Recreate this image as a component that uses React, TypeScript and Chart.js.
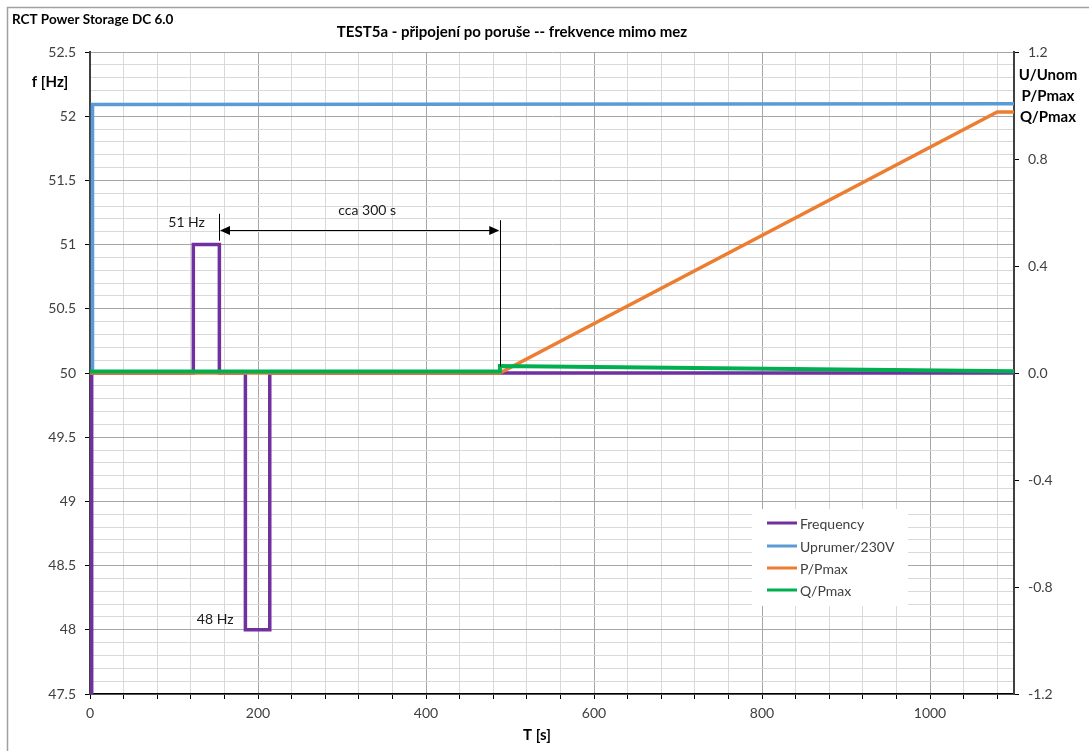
import React, { useEffect, useRef } from "react";
import { Chart, registerables } from "chart.js";
Chart.register(...registerables);

// ---- data ----
const seriesLabels = ["Frequency", "Uprumer/230V", "P/Pmax", "Q/Pmax"];
const seriesColors = ["#7030A0", "#5B9BD5", "#ED7D31", "#00B050"];

const timeFreq = [2, 2, 123, 123, 154, 154, 185, 185, 214, 214, 1100];
const freqHz = [47.5, 50, 50, 51, 51, 50, 50, 48, 48, 50, 50];

const timeU = [0, 3, 3, 1100];
const uRel = [0, 0, 1.004, 1.007];

const timeP = [0, 488, 1080, 1100];
const pRel = [0, 0, 0.976, 0.976];

const timeQ = [0, 488, 488, 1100];
const qRel = [0.006, 0.006, 0.026, 0.007];

const xTickLabels = ["0", "200", "400", "600", "800", "1000"];

// annotations (data coordinates)
const markerTimes = [153.6, 488.4];
const markerTops = [51.24, 51.19];
const markerBottoms = [51.03, 50.05];
const arrowLevel = 51.11;
const noteTexts = ["cca 300 s", "51 Hz", "48 Hz"];
const noteTimes = [330, 115, 149];
const noteLevels = [51.265, 51.17, 48.08];

const FONT = "Lato, 'Open Sans', sans-serif";

const toPts = (xs: number[], ys: number[]) => xs.map((x, i) => ({ x, y: ys[i] }));

const isMajorHalf = (v: number) => Math.abs(v * 2 - Math.round(v * 2)) < 1e-6;

const decorPlugin = {
  id: "decor",
  afterDatasetsDraw(chart: any) {
    const ctx = chart.ctx;
    const xs = chart.scales.x;
    const ys = chart.scales.y;
    ctx.save();
    // markers
    ctx.strokeStyle = "#000";
    ctx.lineWidth = 1;
    markerTimes.forEach((t, i) => {
      const px = Math.round(xs.getPixelForValue(t)) + 0.5;
      ctx.beginPath();
      ctx.moveTo(px, ys.getPixelForValue(markerTops[i]));
      ctx.lineTo(px, ys.getPixelForValue(markerBottoms[i]));
      ctx.stroke();
    });
    // double arrow
    const ax1 = xs.getPixelForValue(markerTimes[0]) + 1;
    const ax2 = xs.getPixelForValue(markerTimes[1]) - 1;
    const ay = Math.round(ys.getPixelForValue(arrowLevel)) + 0.5;
    ctx.beginPath();
    ctx.moveTo(ax1 + 6, ay);
    ctx.lineTo(ax2 - 6, ay);
    ctx.stroke();
    ctx.fillStyle = "#000";
    ctx.beginPath();
    ctx.moveTo(ax1, ay);
    ctx.lineTo(ax1 + 10, ay - 4.5);
    ctx.lineTo(ax1 + 10, ay + 4.5);
    ctx.closePath();
    ctx.fill();
    ctx.beginPath();
    ctx.moveTo(ax2, ay);
    ctx.lineTo(ax2 - 10, ay - 4.5);
    ctx.lineTo(ax2 - 10, ay + 4.5);
    ctx.closePath();
    ctx.fill();
    // notes
    ctx.font = `14px ${FONT}`;
    ctx.fillStyle = "#1a1a1a";
    ctx.textAlign = "center";
    ctx.textBaseline = "middle";
    noteTexts.forEach((t, i) => {
      ctx.fillText(t, xs.getPixelForValue(noteTimes[i]), ys.getPixelForValue(noteLevels[i]));
    });
    // legend
    const lx = 752, ly = 509, lw = 156, lh = 97;
    ctx.fillStyle = "#fff";
    ctx.fillRect(lx, ly, lw, lh);
    const rowsY = [523, 546, 568, 590];
    ctx.textAlign = "left";
    ctx.font = `14px ${FONT}`;
    chart.data.datasets.forEach((ds: any, i: number) => {
      ctx.strokeStyle = ds.borderColor;
      ctx.lineWidth = 3;
      ctx.beginPath();
      ctx.moveTo(767, rowsY[i]);
      ctx.lineTo(797, rowsY[i]);
      ctx.stroke();
      ctx.fillStyle = "#404040";
      ctx.fillText(ds.label, 800, rowsY[i] + 1);
    });
    ctx.restore();
  },
  afterDraw(chart: any) {
    const ctx = chart.ctx;
    ctx.save();
    ctx.strokeStyle = "#a0a0a0";
    ctx.lineWidth = 1.5;
    ctx.strokeRect(7.5, 7.5, 1200, 900);
    ctx.fillStyle = "#000";
    ctx.textBaseline = "alphabetic";
    ctx.textAlign = "left";
    ctx.font = `bold 13.5px ${FONT}`;
    ctx.fillText("RCT Power Storage DC 6.0", 12, 24);
    ctx.textAlign = "center";
    ctx.font = `bold 15px ${FONT}`;
    ctx.fillText("TEST5a - připojení po poruše -- frekvence mimo mez", 512, 37);
    ctx.textBaseline = "middle";
    ctx.fillText("f [Hz]", 50, 82);
    ctx.fillText("U/Unom", 1048, 75);
    ctx.fillText("P/Pmax", 1048, 96);
    ctx.fillText("Q/Pmax", 1048, 117);
    ctx.fillText("T [s]", 537, 735);
    ctx.restore();
  },
};

export default function App() {
  const ref = useRef<HTMLCanvasElement>(null);
  useEffect(() => {
    if (!ref.current) return;
    const tickFont = { family: FONT, size: 14 };
    const chart = new Chart(ref.current, {
      type: "line",
      data: {
        datasets: [
          { label: seriesLabels[0], data: toPts(timeFreq, freqHz), borderColor: seriesColors[0], yAxisID: "y", order: 2 },
          { label: seriesLabels[1], data: toPts(timeU, uRel), borderColor: seriesColors[1], yAxisID: "y2", order: 3 },
          { label: seriesLabels[2], data: toPts(timeP, pRel), borderColor: seriesColors[2], yAxisID: "y2", order: 1 },
          { label: seriesLabels[3], data: toPts(timeQ, qRel), borderColor: seriesColors[3], yAxisID: "y2", order: 0, borderWidth: 4 },
        ] as any,
      },
      options: {
        animation: false,
        responsive: false,
        parsing: false as any,
        elements: {
          point: { radius: 0 },
          line: { borderWidth: 3.5, tension: 0, borderJoinStyle: "miter" as any, borderCapStyle: "butt" },
        },
        layout: { padding: { top: 52, left: 0, right: 0, bottom: 0 } },
        plugins: { legend: { display: false }, tooltip: { enabled: false }, title: { display: false } },
        scales: {
          x: {
            type: "linear",
            min: 0,
            max: 1100,
            afterFit: (s: any) => { s.height = 57; },
            grid: {
              color: (c: any) => (c.tick && Math.round(c.tick.value) % 200 === 0 ? "#a6a6a6" : "#d9d9d9"),
              tickColor: "#000",
              tickLength: 5,
            },
            border: { color: "#000", width: 1.5 },
            ticks: {
              stepSize: 40,
              autoSkip: false,
              maxRotation: 0,
              includeBounds: false,
              padding: 6,
              font: tickFont,
              color: "#404040",
              callback: (v: any) => {
                const idx = xTickLabels.indexOf(String(Math.round(v)));
                return Math.round(v) % 200 === 0 && idx >= 0 ? xTickLabels[idx] : "";
              },
            },
          },
          y: {
            type: "linear",
            position: "left",
            min: 47.5,
            max: 52.5,
            afterFit: (s: any) => { s.width = 90; },
            grid: {
              color: (c: any) => (c.tick && isMajorHalf(c.tick.value) ? "#a6a6a6" : "#d9d9d9"),
              tickColor: (c: any) => (c.tick && isMajorHalf(c.tick.value) ? "#000" : "rgba(0,0,0,0)"),
              tickLength: 5,
            },
            border: { color: "#404040", width: 2 },
            ticks: {
              stepSize: 0.1,
              autoSkip: false,
              padding: 9,
              font: tickFont,
              color: "#404040",
              callback: (v: any) => {
                if (!isMajorHalf(v)) return "";
                const r = Math.round(v * 2) / 2;
                return Number.isInteger(r) ? String(r) : r.toFixed(1);
              },
            },
          },
          y2: {
            type: "linear",
            position: "right",
            min: -1.2,
            max: 1.2,
            afterFit: (s: any) => { s.width = 75; },
            grid: { drawOnChartArea: false, tickColor: "#000", tickLength: 5 },
            border: { color: "#404040", width: 2 },
            ticks: {
              stepSize: 0.4,
              padding: 9,
              font: tickFont,
              color: "#404040",
              callback: (v: any) => (Math.abs(v) < 1e-9 ? "0.0" : Number(v).toFixed(1)),
            },
          },
        },
      } as any,
      plugins: [decorPlugin],
    });
    return () => chart.destroy();
  }, []);
  return (
    <div style={{ position: "fixed", left: 0, top: 0, width: 1089, height: 751, background: "#fff" }}>
      <canvas ref={ref} width={1089} height={751} style={{ display: "block" }} />
    </div>
  );
}
